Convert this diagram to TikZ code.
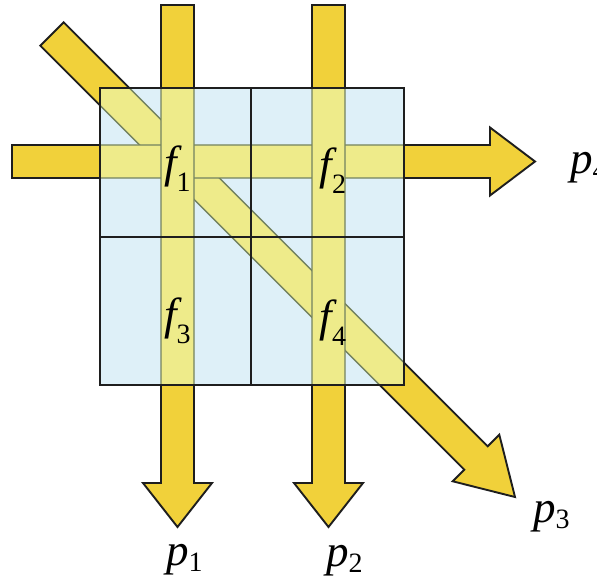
\documentclass[tikz,border=0pt]{standalone}
\usepackage{fontspec}
\setmainfont{Liberation Serif}
\definecolor{beamY}{RGB}{241,209,58}
\definecolor{paleY}{RGB}{238,235,138}
\definecolor{cellB}{RGB}{222,240,248}
\definecolor{edgeD}{RGB}{30,30,30}
\definecolor{edgeG}{RGB}{115,130,95}
\newcommand\diagbeam{(63.7,22.3) -- (487.7,446.3) -- (499.3,434.7) -- (515,497) -- (452.7,481.3) -- (464.3,469.7) -- (40.3,45.7) -- cycle}
\newcommand\horbeam{(12,145) -- (490,145) -- (490,127.5) -- (535,161.5) -- (490,195.5) -- (490,178) -- (12,178) -- cycle}
\newcommand\vbeamA{(161,5) -- (194,5) -- (194,483) -- (212,483) -- (177.5,527) -- (143,483) -- (161,483) -- cycle}
\newcommand\vbeamB{(312,5) -- (345,5) -- (345,483) -- (363,483) -- (328.5,527) -- (294,483) -- (312,483) -- cycle}
\tikzset{
  outerbeam/.style={fill=beamY, draw=edgeD, line width=1.9pt, line join=miter},
  innerbeam/.style={fill=paleY, draw=edgeG, line width=1.3pt},
  gridline/.style={draw=edgeD, line width=1.9pt},
  lbl/.style={anchor=base west, inner sep=0pt, font=\fontsize{45}{50}\selectfont\itshape}
}
\newcommand\subs[2]{\upshape\raisebox{-#1}{\fontsize{28}{30}\selectfont #2}}
\begin{document}
\begin{tikzpicture}[x=1pt,y=-1pt]
\useasboundingbox (0,0) rectangle (597,577);
\clip (0,0) rectangle (597,577);
% cells
\fill[cellB] (100,88) rectangle (404,385);
% beams, full, saturated
\path[outerbeam] \diagbeam;
\path[outerbeam] \horbeam;
\path[outerbeam] \vbeamA;
\path[outerbeam] \vbeamB;
% beams inside the square, pale
\begin{scope}
  \clip (100,88) rectangle (404,385);
  \fill[cellB] (100,88) rectangle (404,385);
  \path[innerbeam] \diagbeam;
  \path[innerbeam] \horbeam;
  \path[innerbeam] \vbeamA;
  \path[innerbeam] \vbeamB;
\end{scope}
% grid
\draw[gridline] (100,88) rectangle (404,385);
\draw[gridline] (251,88) -- (251,385);
\draw[gridline] (100,237) -- (404,237);
% labels
\node[lbl] (f1) at (164,178) {f\subs{14pt}{1}};
\node[lbl] (f2) at (319.5,180) {f\subs{14pt}{2}};
\node[lbl] (f3) at (164,330) {f\subs{14pt}{3}};
\node[lbl] (f4) at (319.5,331) {f\subs{14pt}{4}};
\node[lbl] (p1) at (166,565) {p\subs{6pt}{1}};
\node[lbl] (p2) at (326,566) {p\subs{6pt}{2}};
\node[lbl] (p3) at (533,522) {p\subs{6pt}{3}};
\node[lbl] (p4) at (570,174) {p\subs{6pt}{4}};
\end{tikzpicture}
\end{document}
